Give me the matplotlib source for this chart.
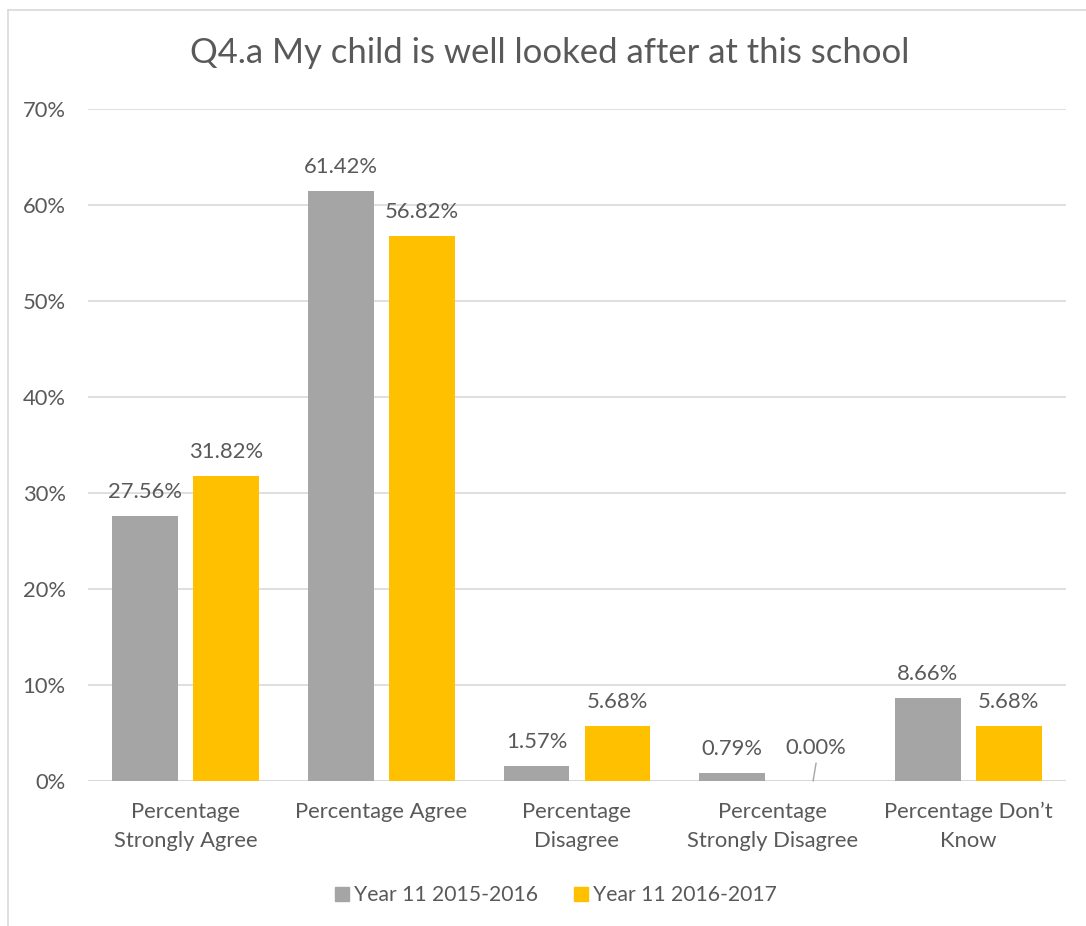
import matplotlib
matplotlib.use("Agg")
import matplotlib.pyplot as plt
from matplotlib.lines import Line2D
from matplotlib.patches import Patch
import numpy as np

categories = ["Percentage\nStrongly Agree", "Percentage Agree", "Percentage\nDisagree",
              "Percentage\nStrongly Disagree", "Percentage Don\u2019t\nKnow"]
series_names = ["Year 11 2015-2016", "Year 11 2016-2017"]
values_2015 = [27.56, 61.42, 1.57, 0.79, 8.66]
values_2016 = [31.82, 56.82, 5.68, 0.00, 5.68]
yticks = [0, 10, 20, 30, 40, 50, 60, 70]
title = "Q4.a My child is well looked after at this school"

GRAY = "#A5A5A5"
GOLD = "#FFC000"
TXT = "#595959"
GRID = "#D9D9D9"

plt.rcParams['font.family'] = ['Lato', 'DejaVu Sans']

W, H = 1086, 926
fig = plt.figure(figsize=(W / 100, H / 100), dpi=100)
ax = fig.add_axes([88 / W, 1 - 781 / H, (1066 - 88) / W, (781 - 109) / H])

x = np.arange(len(categories))
bw = 0.337
off = 0.207
b1 = ax.bar(x - off, values_2015, bw, color=GRAY, label=series_names[0], zorder=3)
b2 = ax.bar(x + off, values_2016, bw, color=GOLD, label=series_names[1], zorder=3)

fs = 15.8
for xs, vals in ((x - off, values_2015), (x + off, values_2016)):
    for xi, v in zip(xs, vals):
        if v == 0:
            ax.annotate("", xy=(xi, 0), xytext=(3, 18), textcoords="offset pixels",
                        arrowprops=dict(arrowstyle="-", color="#A6A6A6", lw=1,
                                        shrinkA=0, shrinkB=0), zorder=4)
            ax.annotate(f"{v:.2f}%", xy=(xi, 0), xytext=(3, 27), textcoords="offset pixels",
                        ha="center", va="baseline", fontsize=fs, color=TXT)
        else:
            ax.annotate(f"{v:.2f}%", xy=(xi, v), xytext=(0, 18), textcoords="offset pixels",
                        ha="center", va="baseline", fontsize=fs, color=TXT)

ax.set_xlim(-0.5, len(categories) - 0.5)
ax.set_ylim(0, 70)
ax.set_yticks(yticks)
ax.set_yticklabels([f"{t}%" for t in yticks])
ax.set_xticks(x)
ax.set_xticklabels(categories, linespacing=1.55)
ax.tick_params(axis="both", length=0, labelsize=fs, colors=TXT)
ax.tick_params(axis="y", pad=16)
ax.tick_params(axis="x", pad=15)
ax.grid(axis="y", color=GRID, lw=1.2, zorder=0)
for s in ax.spines.values():
    s.set_visible(False)
ax.axhline(0, color=GRID, lw=1.5, zorder=2)

fig.text(550 / W, 1 - 53 / H, title, ha="center", va="center", fontsize=24.9, color=TXT)

handles = [Patch(color=GRAY), Patch(color=GOLD)]
fig.legend(handles, series_names, loc="center", bbox_to_anchor=(556 / W, 1 - 895 / H),
           ncol=2, frameon=False, fontsize=15.2, labelcolor=TXT, handlelength=0.65,
           handleheight=0.65, handletextpad=0.25, columnspacing=1.7)

fig.add_artist(Line2D([8 / W, 8 / W], [0, 1 - 10 / H], transform=fig.transFigure, color="#D9D9D9", lw=1.2))
fig.add_artist(Line2D([8 / W, 1], [1 - 10 / H, 1 - 10 / H], transform=fig.transFigure, color="#D9D9D9", lw=1.2))

fig.savefig("out.png", dpi=100)
